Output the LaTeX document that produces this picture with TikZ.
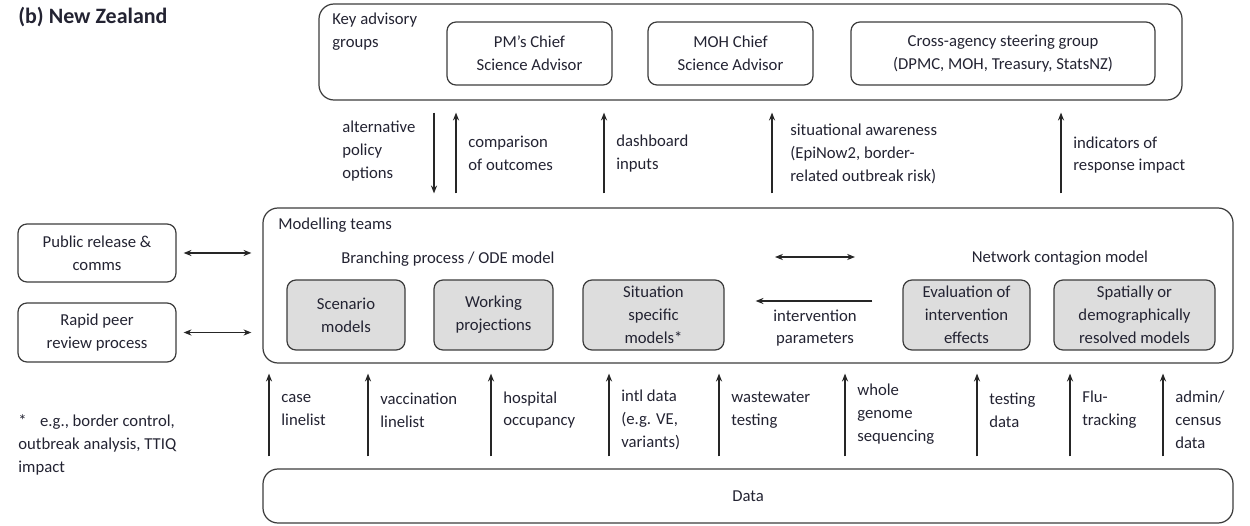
\documentclass[tikz,border=0pt]{standalone}
\usepackage{fontspec}
\setmainfont{Carlito}
\usetikzlibrary{arrows.meta}
\definecolor{txtcol}{RGB}{35,35,50}
\definecolor{linecol}{RGB}{60,60,60}
\definecolor{boxgray}{RGB}{221,221,221}
\tikzset{
  wh/.style 2 args={minimum width=#1*0.02cm, minimum height=#2*0.02cm},
  bigbox/.style={draw=linecol, line width=0.7pt, rounded corners=0.3cm, inner sep=0pt},
  smallbox/.style={draw=linecol, line width=0.7pt, rounded corners=0.18cm, align=center, inner sep=0pt},
  modelbox/.style={smallbox, fill=boxgray},
  lbl/.style={anchor=west, align=left, inner sep=0pt},
  arr/.style={draw=black!85, line width=0.6pt, -{Stealth[length=4.5pt,width=3.5pt]}},
  dblarr/.style={arr, {Stealth[length=4.5pt,width=3.5pt]}-{Stealth[length=4.5pt,width=3.5pt]}}
}
\begin{document}
\begin{tikzpicture}[x=0.02cm, y=-0.02cm, font=\fontsize{9.5}{13}\selectfont, text=txtcol]
        \useasboundingbox (0,0) rectangle (1250,526);
        \node[lbl, font=\fontsize{12.5}{15}\selectfont\bfseries] (title) at (18,17) {(b) New Zealand};
        \begin{scope}[every node/.style={bigbox}]
          \node[wh={863}{96}] (keyadv) at (750.5,52) {};
          \node[wh={970}{155}] (model) at (748,285.5) {};
          \node[wh={970}{54}] (data) at (748,496) {Data};
        \end{scope}
        \begin{scope}[every node/.style={smallbox}]
          \node[wh={165}{63}] (pmcsa) at (529.5,53.5) {PM's Chief\\Science Advisor};
          \node[wh={165}{63}] (mohcsa) at (730.5,53.5) {MOH Chief\\Science Advisor};
          \node[wh={304}{63}] (crossag) at (1003,53.5) {Cross-agency steering group\\(DPMC, MOH, Treasury, StatsNZ)};
          \node[wh={158}{58}] (pubrel) at (97,253) {Public release \&\\comms};
          \node[wh={158}{59}] (peerrev) at (97,332.5) {Rapid peer\\review process};
        \end{scope}
        \begin{scope}[every node/.style={modelbox}]
          \node[wh={118}{70}] (scen) at (346,315) {Scenario\\models};
          \node[wh={119}{70}] (work) at (493.5,315) {Working\\projections};
          \node[wh={141}{70}] (situ) at (653.5,315) {Situation\\specific\\models*};
          \node[wh={127}{70}] (eval) at (966.5,315) {Evaluation of\\intervention\\effects};
          \node[wh={161}{70}] (spat) at (1134.5,315) {Spatially or\\demographically\\resolved models};
        \end{scope}
        \node[lbl] (keylbl) at (332,31.5) {Key advisory\\groups};
        \node[lbl] (modlbl) at (278,225) {Modelling teams};
        \node (branch) at (448,259) {Branching process / ODE model};
        \node (network) at (1060,258) {Network contagion model};
        \node[align=center] (intpar) at (815,328) {intervention\\parameters};
        \begin{scope}[every node/.style={lbl}]
          \node (altlbl) at (342,151) {alternative\\policy\\options};
          \node (cmplbl) at (468,153.5) {comparison\\of outcomes};
          \node (dshlbl) at (616,153.5) {dashboard\\inputs};
          \node (sitlbl) at (790,154) {situational awareness\\(EpiNow2, border-\\related outbreak risk)};
          \node (indlbl) at (1073,155) {indicators of\\response impact};
          \node (caselbl) at (281,410) {case\\linelist};
          \node (vacclbl) at (380,410) {vaccination\\linelist};
          \node (hosplbl) at (503,410) {hospital\\occupancy};
          \node (intllbl) at (621,420) {intl data\\(e.g. VE,\\variants)};
          \node (wastelbl) at (731,410) {wastewater\\testing};
          \node (wgslbl) at (857,414) {whole\\genome\\sequencing};
          \node (testlbl) at (989,410) {testing\\data};
          \node (flulbl) at (1082,410) {Flu-\\tracking};
          \node (adminlbl) at (1175,420) {admin/\\census\\data};
          \node (footnote) at (18,445) {*\hspace{0.8em}e.g., border control,\\outbreak analysis, TTIQ\\impact};
        \end{scope}
        \coordinate (dl) at (775,257);
        \coordinate (dr) at (855,257);
        \begin{scope}[every edge/.style={arr, shorten <=0.28cm, shorten >=0.24cm}]
          \path (keyadv.south -| 434,0) edge[shorten <=0.24cm, shorten >=0.28cm] (model.north -| 434,0);
          \foreach \x in {456,604,772,1061}
            \path (model.north -| \x,0) edge (keyadv.south -| \x,0);
        \end{scope}
        \begin{scope}[every edge/.style={arr, shorten <=0.24cm, shorten >=0.2cm}]
          \foreach \x in {269,368,491,609,719,845,977,1070,1163}
            \path (data.north -| \x,0) edge (model.south -| \x,0);
        \end{scope}
        \begin{scope}[every edge/.style={dblarr}]
          \path (pubrel.east) edge[shorten <=0.14cm, shorten >=0.22cm] (model.west |- pubrel.east);
          \path (peerrev.east) edge[shorten <=0.14cm, shorten >=0.22cm] (model.west |- peerrev.east);
          \path (dl) edge (dr);
        \end{scope}
        \path (eval.west |- 0,301) edge[arr, shorten <=0.6cm, shorten >=0.62cm] (situ.east |- 0,301);
      \end{tikzpicture}
\end{document}
